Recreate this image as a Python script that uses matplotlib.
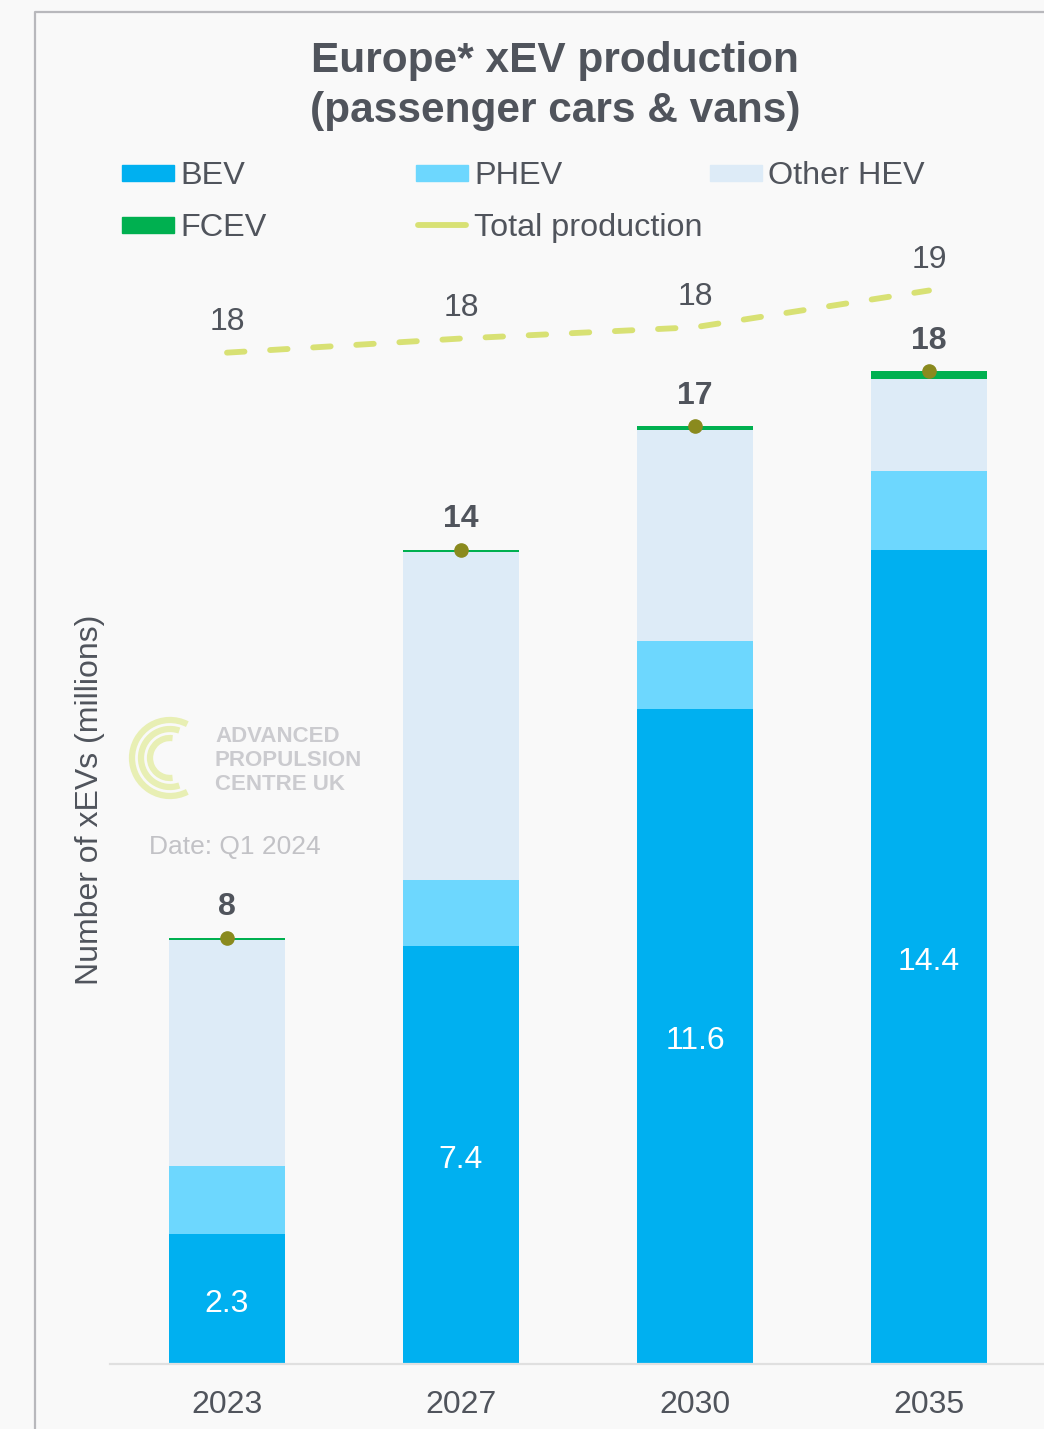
import numpy as np
import matplotlib.pyplot as plt
from matplotlib.patches import Rectangle, Arc
from matplotlib.lines import Line2D

plt.rcParams["font.family"] = ["Liberation Sans", "DejaVu Sans"]

# data (millions)
years     = ["2023", "2027", "2030", "2035"]
bev       = [2.3, 7.4, 11.6, 14.4]
phev      = [1.2, 1.17, 1.2, 1.4]
other_hev = [4.0, 5.8, 3.73, 1.63]
fcev      = [0.04, 0.04, 0.07, 0.14]
total_prod = [17.9, 18.15, 18.35, 19.0]
total_lbl  = ["18", "18", "18", "19"]
stack_lbl  = ["8", "14", "17", "18"]

C = {"bev": "#00B0F0", "phev": "#6DD7FE", "hev": "#DDEBF7",
     "fcev": "#00B050", "line": "#D8E174", "dot": "#8A8A1E",
     "txt": "#50545C", "bg": "#F9F9F9"}

W, H = 1044, 1429
fig = plt.figure(figsize=(W / 100, H / 100), dpi=100, facecolor=C["bg"])


def fx(x):
    return x / W


def fy(y):
    return 1 - y / H


ax = fig.add_axes([fx(110), 65 / H, 936 / W, 1130 / H])
ax.set_facecolor(C["bg"])

x = np.arange(len(years))
bw = 0.495
b1 = np.array(bev)
b2 = b1 + np.array(phev)
b3 = b2 + np.array(other_hev)
tops = b3 + np.array(fcev)

ax.bar(x, bev, bw, color=C["bev"], zorder=2)
ax.bar(x, phev, bw, bottom=b1, color=C["phev"], zorder=2)
ax.bar(x, other_hev, bw, bottom=b2, color=C["hev"], zorder=2)
ax.bar(x, fcev, bw, bottom=b3, color=C["fcev"], zorder=2)

ax.plot(x, total_prod, color=C["line"], lw=4.2,
        ls=(0, (3.0, 4.4)), dash_capstyle="round", zorder=3)
ax.plot(x, tops, "o", color=C["dot"], ms=9.5, zorder=4)

for xi, v, t in zip(x, bev, bev):
    ax.annotate(f"{t:.1f}", (xi, v / 2), xytext=(0, -3.5),
                textcoords="offset points", ha="center", va="center",
                color="white", fontsize=23)
for xi, v, t in zip(x, tops, stack_lbl):
    ax.annotate(t, (xi, v), xytext=(0, 22), textcoords="offset points",
                ha="center", va="center", fontsize=23, fontweight="bold",
                color=C["txt"])
for xi, v, t in zip(x, total_prod, total_lbl):
    ax.annotate(t, (xi, v), xytext=(0, 22), textcoords="offset points",
                ha="center", va="center", fontsize=23, color=C["txt"])

ax.set_xlim(-0.5, 3.5)
ax.set_ylim(0, 20)
ax.set_xticks(x)
ax.set_xticklabels(years, fontsize=23, color=C["txt"])
ax.tick_params(axis="x", length=0, pad=19)
ax.set_yticks([])
for s in ["top", "right", "left"]:
    ax.spines[s].set_visible(False)
ax.spines["bottom"].set_color("#E0E0E0")
ax.spines["bottom"].set_linewidth(1.6)

fig.text(fx(90), fy(800), "Number of xEVs (millions)", rotation=90,
         ha="center", va="center", fontsize=23, color=C["txt"])

# title
fig.text(fx(555), fy(61), "Europe* xEV production", ha="center", va="center",
         fontsize=30.5, fontweight="bold", color=C["txt"])
fig.text(fx(555), fy(111), "(passenger cars & vans)", ha="center", va="center",
         fontsize=30.5, fontweight="bold", color=C["txt"])

# legend, drawn by hand
leg = [("BEV", C["bev"], 122, 173, "patch"),
       ("PHEV", C["phev"], 416, 173, "patch"),
       ("Other HEV", C["hev"], 710, 173, "patch"),
       ("FCEV", C["fcev"], 122, 225, "patch"),
       ("Total production", C["line"], 416, 225, "line")]
for name, col, lx, ly, kind in leg:
    if kind == "patch":
        fig.add_artist(Rectangle((fx(lx), fy(ly + 8)), 52 / W, 16 / H,
                                 transform=fig.transFigure, color=col))
    else:
        fig.add_artist(Line2D([fx(lx + 2), fx(lx + 50)], [fy(ly), fy(ly)],
                              transform=fig.transFigure, color=col, lw=4.2,
                              solid_capstyle="round"))
    fig.text(fx(lx + 58), fy(ly + 3), name, ha="left", va="center",
             fontsize=23.3, color=C["txt"])

# watermark
logo_c = (fx(170), fy(758))
for r, t1, t2 in [(38, 55, 305), (29, 65, 295), (20, 80, 280)]:
    fig.add_artist(Arc((logo_c[0], logo_c[1]), 2 * r / W, 2 * r / H,
                       theta1=t1, theta2=t2, transform=fig.transFigure,
                       color="#E8EFB4", lw=4.5))
for i, s in enumerate(["ADVANCED", "PROPULSION", "CENTRE UK"]):
    fig.text(fx(215), fy(737 + 24 * i), s, ha="left", va="center",
             fontsize=16, fontweight="bold", color="#CBCBCF")
fig.text(fx(149), fy(847), "Date: Q1 2024", ha="left", va="center",
         fontsize=19, color="#C2C2C6")

# outer frame
fig.add_artist(Line2D([fx(35), fx(35), fx(1044)], [0, fy(12), fy(12)],
                      transform=fig.transFigure, color="#B8B8BC", lw=1.6))

fig.savefig("out.png", dpi=100, facecolor=C["bg"])
